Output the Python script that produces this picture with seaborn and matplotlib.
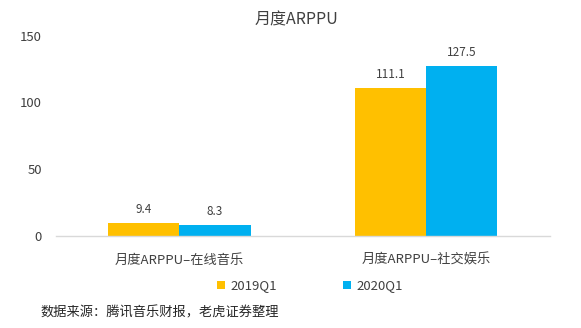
import matplotlib
matplotlib.use("Agg")
import matplotlib.pyplot as plt
import seaborn as sns
import pandas as pd
from matplotlib.patches import Patch

categories = ["月度ARPPU–在线音乐", "月度ARPPU–社交娱乐"]
series_names = ["2019Q1", "2020Q1"]
values_2019 = [9.4, 111.1]
values_2020 = [8.3, 127.5]
yticks = [0, 50, 100, 150]
title = "月度ARPPU"
source = "数据来源：腾讯音乐财报，老虎证券整理"
colors = ["#FFC000", "#00B0F0"]

sns.set_theme(style="white")
plt.rcParams["font.family"] = ["Noto Sans CJK SC", "DejaVu Sans"]

df = pd.DataFrame({
    "category": categories * 2,
    "series": [series_names[0]] * 2 + [series_names[1]] * 2,
    "value": values_2019 + values_2020,
})

fig = plt.figure(figsize=(5.81, 3.28), dpi=100)
ax = fig.add_axes([0.0964, 0.2814, 0.8502, 0.6096])

sns.barplot(data=df, x="category", y="value", hue="series", order=categories,
            hue_order=series_names, palette=colors, width=0.575, saturation=1,
            ax=ax, legend=False, errorbar=None, linewidth=0, edgecolor="none")

for c in ax.containers:
    ax.bar_label(c, fmt="%.1f", padding=5, fontsize=8.5, color="#404040")

ax.set_xlim(-0.5, 1.5)
ax.set_ylim(0, 150)
ax.set_yticks(yticks)
ax.set_yticklabels([str(t) for t in yticks])
ax.set_xlabel("")
ax.set_ylabel("")
for s in ["top", "right", "left"]:
    ax.spines[s].set_visible(False)
ax.spines["bottom"].set_color("#D9D9D9")
ax.spines["bottom"].set_linewidth(1)
ax.tick_params(axis="y", length=0, labelsize=9.5, labelcolor="#404040", pad=10)
ax.tick_params(axis="x", length=0, labelsize=9.5, labelcolor="#404040", pad=13)

fig.text(296 / 581, 1 - 20 / 328, title, ha="center", va="center", fontsize=11.5, color="#404040")

handles = [Patch(facecolor=colors[i], edgecolor="none", label=series_names[i]) for i in range(2)]
fig.legend(handles=handles, loc="center", bbox_to_anchor=(310 / 581, 1 - 286 / 328),
           ncol=2, frameon=False, fontsize=9.5, handlelength=0.6, handleheight=0.6,
           handletextpad=0.4, columnspacing=5.0, labelcolor="#404040")

fig.text(40 / 581, 1 - 313 / 328, source, ha="left", va="center", fontsize=9.5, color="#262626")

fig.savefig("out.png", dpi=100)
